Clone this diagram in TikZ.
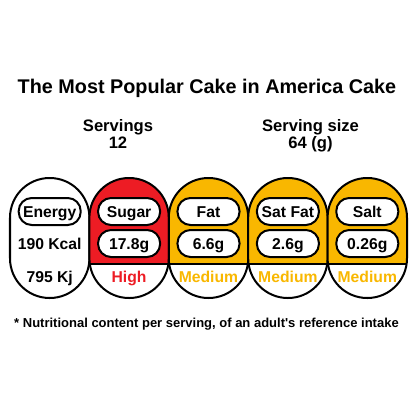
\documentclass[tikz,border=0pt]{standalone}
\usepackage{fontspec}
\setmainfont{Liberation Sans}
\definecolor{altorojo}{HTML}{ED1C24}
\definecolor{medioambar}{HTML}{F9B700}
\begin{document}
\begin{tikzpicture}[x=1bp,y=-1bp,
    pill/.style={draw=black,line width=2bp,fill=white,rounded corners=13bp,minimum width=62bp,minimum height=27bp,inner sep=0pt,text height=11.3bp,text depth=0pt,font=\fontsize{15.7bp}{18bp}\bfseries},
    dato/.style={inner sep=0pt,text height=11.3bp,text depth=0pt,font=\fontsize{15.7bp}{18bp}\bfseries},
    borde/.style={draw=black,line width=2bp}]
\def\anc{79.4}
\def\rad{39.6}
    \useasboundingbox (0,0) rectangle (414,414);
    %Encabezado
    \node[anchor=base,font=\fontsize{19.8bp}{24bp}\bfseries] (titulo) at (207,93) {The Most Popular Cake in America Cake};
    \node[anchor=base,font=\fontsize{16.6bp}{20bp}\bfseries] (porciones) at (118,131) {Servings};
    \node[anchor=base,font=\fontsize{16.6bp}{20bp}\bfseries] (numporc) at (118,148) {12};
    \node[anchor=base,font=\fontsize{16.6bp}{20bp}\bfseries] (tamano) at (310.5,131) {Serving size};
    \node[anchor=base,font=\fontsize{16.6bp}{20bp}\bfseries] (numtam) at (310.5,148) {64 (g)};

    %Pildora energia
    \draw[borde,rounded corners=\rad bp] (10,178) rectangle ++(\anc,120);
    \node[pill] (energia) at (49.7,211.5) {Energy};
    \node[dato] (kcal) at (49.7,244) {190 Kcal};
    \node[dato] (kj) at (49.7,277) {795 Kj};

    %Pildoras de color
    \foreach \i/\col/\txt/\val/\nivel in {1/altorojo/Sugar/17.8g/High,2/medioambar/Fat/6.6g/Medium,3/medioambar/Sat Fat/2.6g/Medium,4/medioambar/Salt/0.26g/Medium}{
        \pgfmathsetmacro{\xa}{10+\i*\anc}
        \pgfmathsetmacro{\xc}{\xa+\anc/2}
        \begin{scope}
            \clip[rounded corners=\rad bp] (\xa,178) rectangle ++(\anc,120);
            \fill[\col] (\xa,178) rectangle ++(\anc,86);
        \end{scope}
        \draw[borde] (\xa,264) -- ++(\anc,0);
        \draw[borde,rounded corners=\rad bp] (\xa,178) rectangle ++(\anc,120);
        \node[pill] (nom\i) at (\xc,211.5) {\txt};
        \node[pill] (val\i) at (\xc,243.5) {\val};
        \node[dato,text=\col] (niv\i) at (\xc,277) {\nivel};
    }

    %Nota
    \node[anchor=base,font=\fontsize{13bp}{16bp}\bfseries] (nota) at (206.5,327) {* Nutritional content per serving, of an adult\textquotesingle s reference intake};
\end{tikzpicture}
\end{document}
